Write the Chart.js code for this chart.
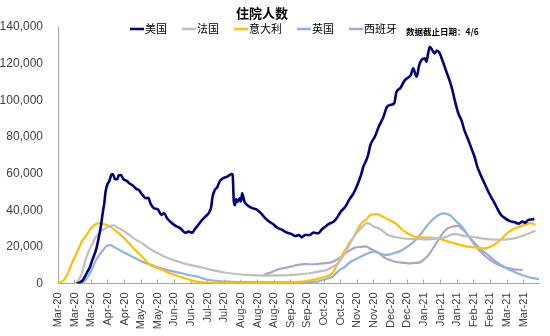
<!DOCTYPE html>
<html>
<head>
<meta charset="utf-8">
<script src="https://cdn.jsdelivr.net/npm/chart.js@4/dist/chart.umd.min.js"></script>
<style>
  html, body { margin: 0; padding: 0; background: #fff; }
  #wrap { width: 550px; height: 336px; }
</style>
</head>
<body>
<div id="wrap"><canvas id="hospChart" width="550" height="336"></canvas></div>
<script>
// Days counted from 2020-03-01, values = patients in hospital
const chartTitle = '住院人数';
const noteText = '数据截止日期：4/6';
const seriesNames = ['美国', '法国', '意大利', '英国', '西班牙'];
const seriesColors = ['#000080', '#BFBFBF', '#FFC000', '#8DB4E2', '#B3A2C7'];

const tickLabels = ['Mar-20', 'Mar-20', 'Mar-20', 'Apr-20', 'Apr-20', 'May-20', 'May-20', 'Jun-20', 'Jun-20',
    'Jul-20', 'Jul-20', 'Aug-20', 'Aug-20', 'Aug-20', 'Sep-20', 'Sep-20', 'Oct-20', 'Oct-20', 'Nov-20',
    'Nov-20', 'Dec-20', 'Dec-20', 'Jan-21', 'Jan-21', 'Jan-21', 'Feb-21', 'Feb-21', 'Mar-21', 'Mar-21'];

const usPoints = [[16,0],[19,800],[21,1900],[24,5500],[27,9200],[29,13000],[32,18300],[34,24000],[36,31000],
    [38,40000],[39,44000],[40,50000],[42,54700],[43,55500],[45,59500],[46,59800],[47,58500],[48,57000],
    [50,56900],[51,59000],[53,59200],[55,57000],[58,56000],[60,54700],[63,53500],[66,51500],[68,51000],
    [71,48500],[74,46500],[76,46800],[78,43500],[81,41000],[84,40500],[87,37400],[89,38500],[92,35500],
    [96,32900],[99,31500],[103,30100],[105,28800],[107,27700],[110,28300],[113,27700],[115,29500],
    [118,31900],[121,34500],[124,36500],[127,38500],[129,41900],[130,47000],[132,51000],[134,52500],
    [136,55600],[139,57500],[141,58000],[143,58500],[146,59800],[147,59500],[148,45000],[149,42800],
    [150,46000],[151,44500],[153,46500],[154,44800],[155,49200],[157,44600],[160,42500],[164,41000],
    [167,40500],[171,38300],[174,36000],[178,33700],[181,32500],[184,30700],[188,29500],[193,27700],
    [196,27200],[200,25900],[203,26500],[205,25200],[208,26500],[212,26500],[215,27800],[219,27400],
    [222,29500],[225,31000],[228,32500],[232,33700],[235,36000],[238,39200],[242,42000],[245,45600],
    [249,49500],[252,53800],[255,59000],[257,63700],[259,66500],[261,70000],[263,75600],[267,80500],
    [270,85600],[274,91000],[277,96500],[280,97500],[283,98300],[285,104700],[288,106500],[292,111000],
    [295,112500],[297,113800],[299,117500],[301,114000],[302,112900],[304,119000],[306,122000],
    [309,122900],[310,121000],[311,123500],[313,129200],[315,127500],[317,125600],[319,127100],
    [321,126000],[324,121100],[327,115500],[330,110100],[332,105600],[334,100000],[337,92900],
    [340,88500],[342,83800],[345,79000],[348,73800],[351,68500],[353,63700],[356,59000],[359,54700],
    [362,50500],[366,45600],[369,42000],[373,37400],[376,35800],[380,34200],[384,33500],[388,32700],
    [391,33800],[393,33200],[396,34700],[399,35000],[401,35200]];

const frPoints = [[14,0],[17,1500],[20,5500],[24,14600],[28,20500],[32,25500],[36,28500],[40,30100],
    [44,31500],[47,31800],[50,30500],[54,29200],[58,27500],[62,25500],[66,23800],[71,21900],[75,20000],
    [79,18300],[84,16500],[90,14600],[97,12800],[104,11400],[111,10200],[118,9200],[125,8100],[132,7000],
    [140,6000],[150,5200],[160,4700],[171,4300],[182,4400],[193,4600],[203,5000],[212,5600],[219,6500],
    [226,7400],[231,9000],[234,10100],[237,11900],[240,15000],[243,18300],[246,22000],[249,25500],
    [252,28000],[254,29500],[257,31500],[260,32900],[263,32300],[266,31000],[270,30100],[274,28300],
    [278,26500],[283,25500],[290,24700],[297,24300],[304,24200],[309,24100],[316,24400],[323,24700],
    [328,25800],[333,27000],[337,26800],[341,26000],[348,25500],[355,24800],[364,24100],[371,24000],
    [378,24100],[384,24600],[389,25500],[395,27000],[402,28800]];

const itPoints = [[0,0],[3,900],[6,2800],[9,6500],[11,10100],[15,15500],[18,20100],[21,23800],[24,26500],
    [27,29500],[29,31000],[32,32500],[35,32900],[38,32500],[41,31900],[44,31000],[46,30100],[49,28500],
    [53,26500],[56,24500],[60,21900],[64,19000],[68,16500],[72,13800],[76,11000],[81,9000],[88,7400],
    [94,5600],[101,4100],[108,2600],[115,1200],[122,600],[135,300],[150,200],[170,250],[185,500],
    [195,700],[206,1000],[213,1800],[220,2800],[225,3700],[229,4600],[232,6500],[234,9200],[237,12500],
    [240,16500],[243,19500],[245,21900],[249,25500],[252,29200],[255,32500],[259,34700],[263,37400],
    [266,37800],[269,37900],[272,37000],[276,35600],[280,34200],[284,32900],[288,30500],[292,28300],
    [296,26800],[301,25500],[306,25200],[312,25000],[318,24600],[323,24100],[328,23000],[334,21900],
    [340,20800],[345,20100],[352,19600],[359,19200],[364,20000],[369,21900],[373,24000],[378,27400],
    [382,29200],[387,30700],[392,31800],[398,32900],[402,31900]];

const ukPoints = [[20,0],[23,1800],[27,5600],[30,10000],[32,12800],[35,15800],[38,18300],[41,20500],
    [43,21000],[45,20800],[49,19200],[53,17800],[57,16500],[62,14800],[68,12800],[73,11300],[79,10100],
    [84,8800],[90,7700],[97,6600],[104,5600],[111,4500],[118,3700],[124,2300],[133,1500],[143,1000],
    [160,700],[180,600],[193,600],[205,800],[212,900],[218,1000],[222,1800],[227,2700],[231,3700],
    [234,5500],[238,7800],[242,9200],[245,11200],[250,13000],[256,15000],[261,16500],[266,17400],
    [270,16800],[276,15600],[281,16200],[287,17400],[292,19200],[298,21900],[302,24500],[306,27400],
    [310,31000],[315,34700],[319,36800],[324,38300],[328,37800],[331,36800],[335,34000],[340,31000],
    [345,26500],[351,21900],[356,18500],[362,15600],[367,12800],[373,10100],[378,8200],[384,6400],
    [389,5000],[395,3700],[400,2900],[405,2300]];

const esPoints = [[173,4600],[178,5800],[184,7400],[190,8400],[196,9200],[201,10000],[207,10600],
    [212,10500],[218,10600],[223,11000],[229,11400],[233,12400],[237,14000],[241,16000],[245,17800],
    [250,19600],[255,20000],[259,20300],[263,19000],[268,17400],[272,15500],[276,13700],[280,12700],
    [284,11900],[290,11300],[295,11000],[300,11200],[304,11400],[308,13000],[312,15600],[316,19500],
    [320,23700],[324,27500],[328,30100],[333,31200],[337,31400],[340,29800],[343,28300],[347,24500],
    [351,21000],[356,17200],[362,13700],[367,11500],[373,9600],[378,8500],[384,7700],[388,7500],[391,7400]];

const allPoints = [usPoints, frPoints, itPoints, ukPoints, esPoints];

document.addEventListener('DOMContentLoaded', () => {
    initializeChart();
});

// title, legend and note are drawn inside the plot like the original
const overlayPlugin = {
    id: 'overlay',
    afterDraw(chart) {
        const ctx = chart.ctx;
        ctx.save();
        ctx.fillStyle = '#000';
        ctx.textBaseline = 'middle';
        ctx.textAlign = 'center';
        ctx.font = 'bold 13px "Noto Sans CJK SC"';
        ctx.fillText(chartTitle, 262, 13);

        ctx.textAlign = 'left';
        ctx.font = '11px "Noto Sans CJK SC"';
        let x = 130;
        chart.data.datasets.forEach(ds => {
            ctx.strokeStyle = ds.borderColor;
            ctx.lineWidth = 2.5;
            ctx.beginPath();
            ctx.moveTo(x, 29);
            ctx.lineTo(x + 14, 29);
            ctx.stroke();
            ctx.fillText(ds.label, x + 15, 29);
            x += 15 + ctx.measureText(ds.label).width + 15;
        });
        ctx.font = 'bold 8.5px "Noto Sans CJK SC"';
        ctx.fillText(noteText, 406, 32);
        ctx.restore();
    }
};

function initializeChart() {
    const datasets = seriesNames.map((name, i) => ({
        label: name,
        data: allPoints[i].map(([d, v]) => ({ x: d, y: v })),
        borderColor: seriesColors[i],
        backgroundColor: seriesColors[i],
        borderWidth: i === 0 ? 2.6 : 2.2,
        pointRadius: 0,
        cubicInterpolationMode: 'monotone',
        fill: false
    }));

    new Chart(document.getElementById('hospChart'), {
        type: 'line',
        data: { datasets },
        options: {
            responsive: false,
            animation: false,
            layout: { padding: { top: 27, right: 5, left: 0, bottom: 0 } },
            plugins: {
                legend: { display: false },
                title: { display: false },
                tooltip: { enabled: false }
            },
            scales: {
                x: {
                    type: 'linear',
                    min: 0,
                    max: 405,
                    afterFit: (axis) => { axis.height = 52.5; },
                    grid: { drawOnChartArea: false, drawTicks: true, tickLength: -4, color: '#A6A6A6' },
                    border: { display: true, color: '#A6A6A6', width: 1 },
                    ticks: {
                        stepSize: 14,
                        includeBounds: false,
                        autoSkip: false,
                        minRotation: 90,
                        maxRotation: 90,
                        padding: 13,
                        color: '#404040',
                        font: { family: '"Liberation Sans", Arial', size: 11 },
                        callback: (value) => value % 14 === 0 ? tickLabels[value / 14] : ''
                    }
                },
                y: {
                    min: 0,
                    max: 140000,
                    afterFit: (axis) => { axis.width = 58; },
                    grid: { display: false, drawTicks: false },
                    border: { display: true, color: '#A6A6A6', width: 1 },
                    ticks: {
                        stepSize: 20000,
                        padding: 15,
                        color: '#404040',
                        font: { family: '"Liberation Sans", Arial', size: 12 },
                        callback: (value) => value.toLocaleString('en-US')
                    }
                }
            }
        },
        plugins: [overlayPlugin]
    });
}
</script>
</body>
</html>
